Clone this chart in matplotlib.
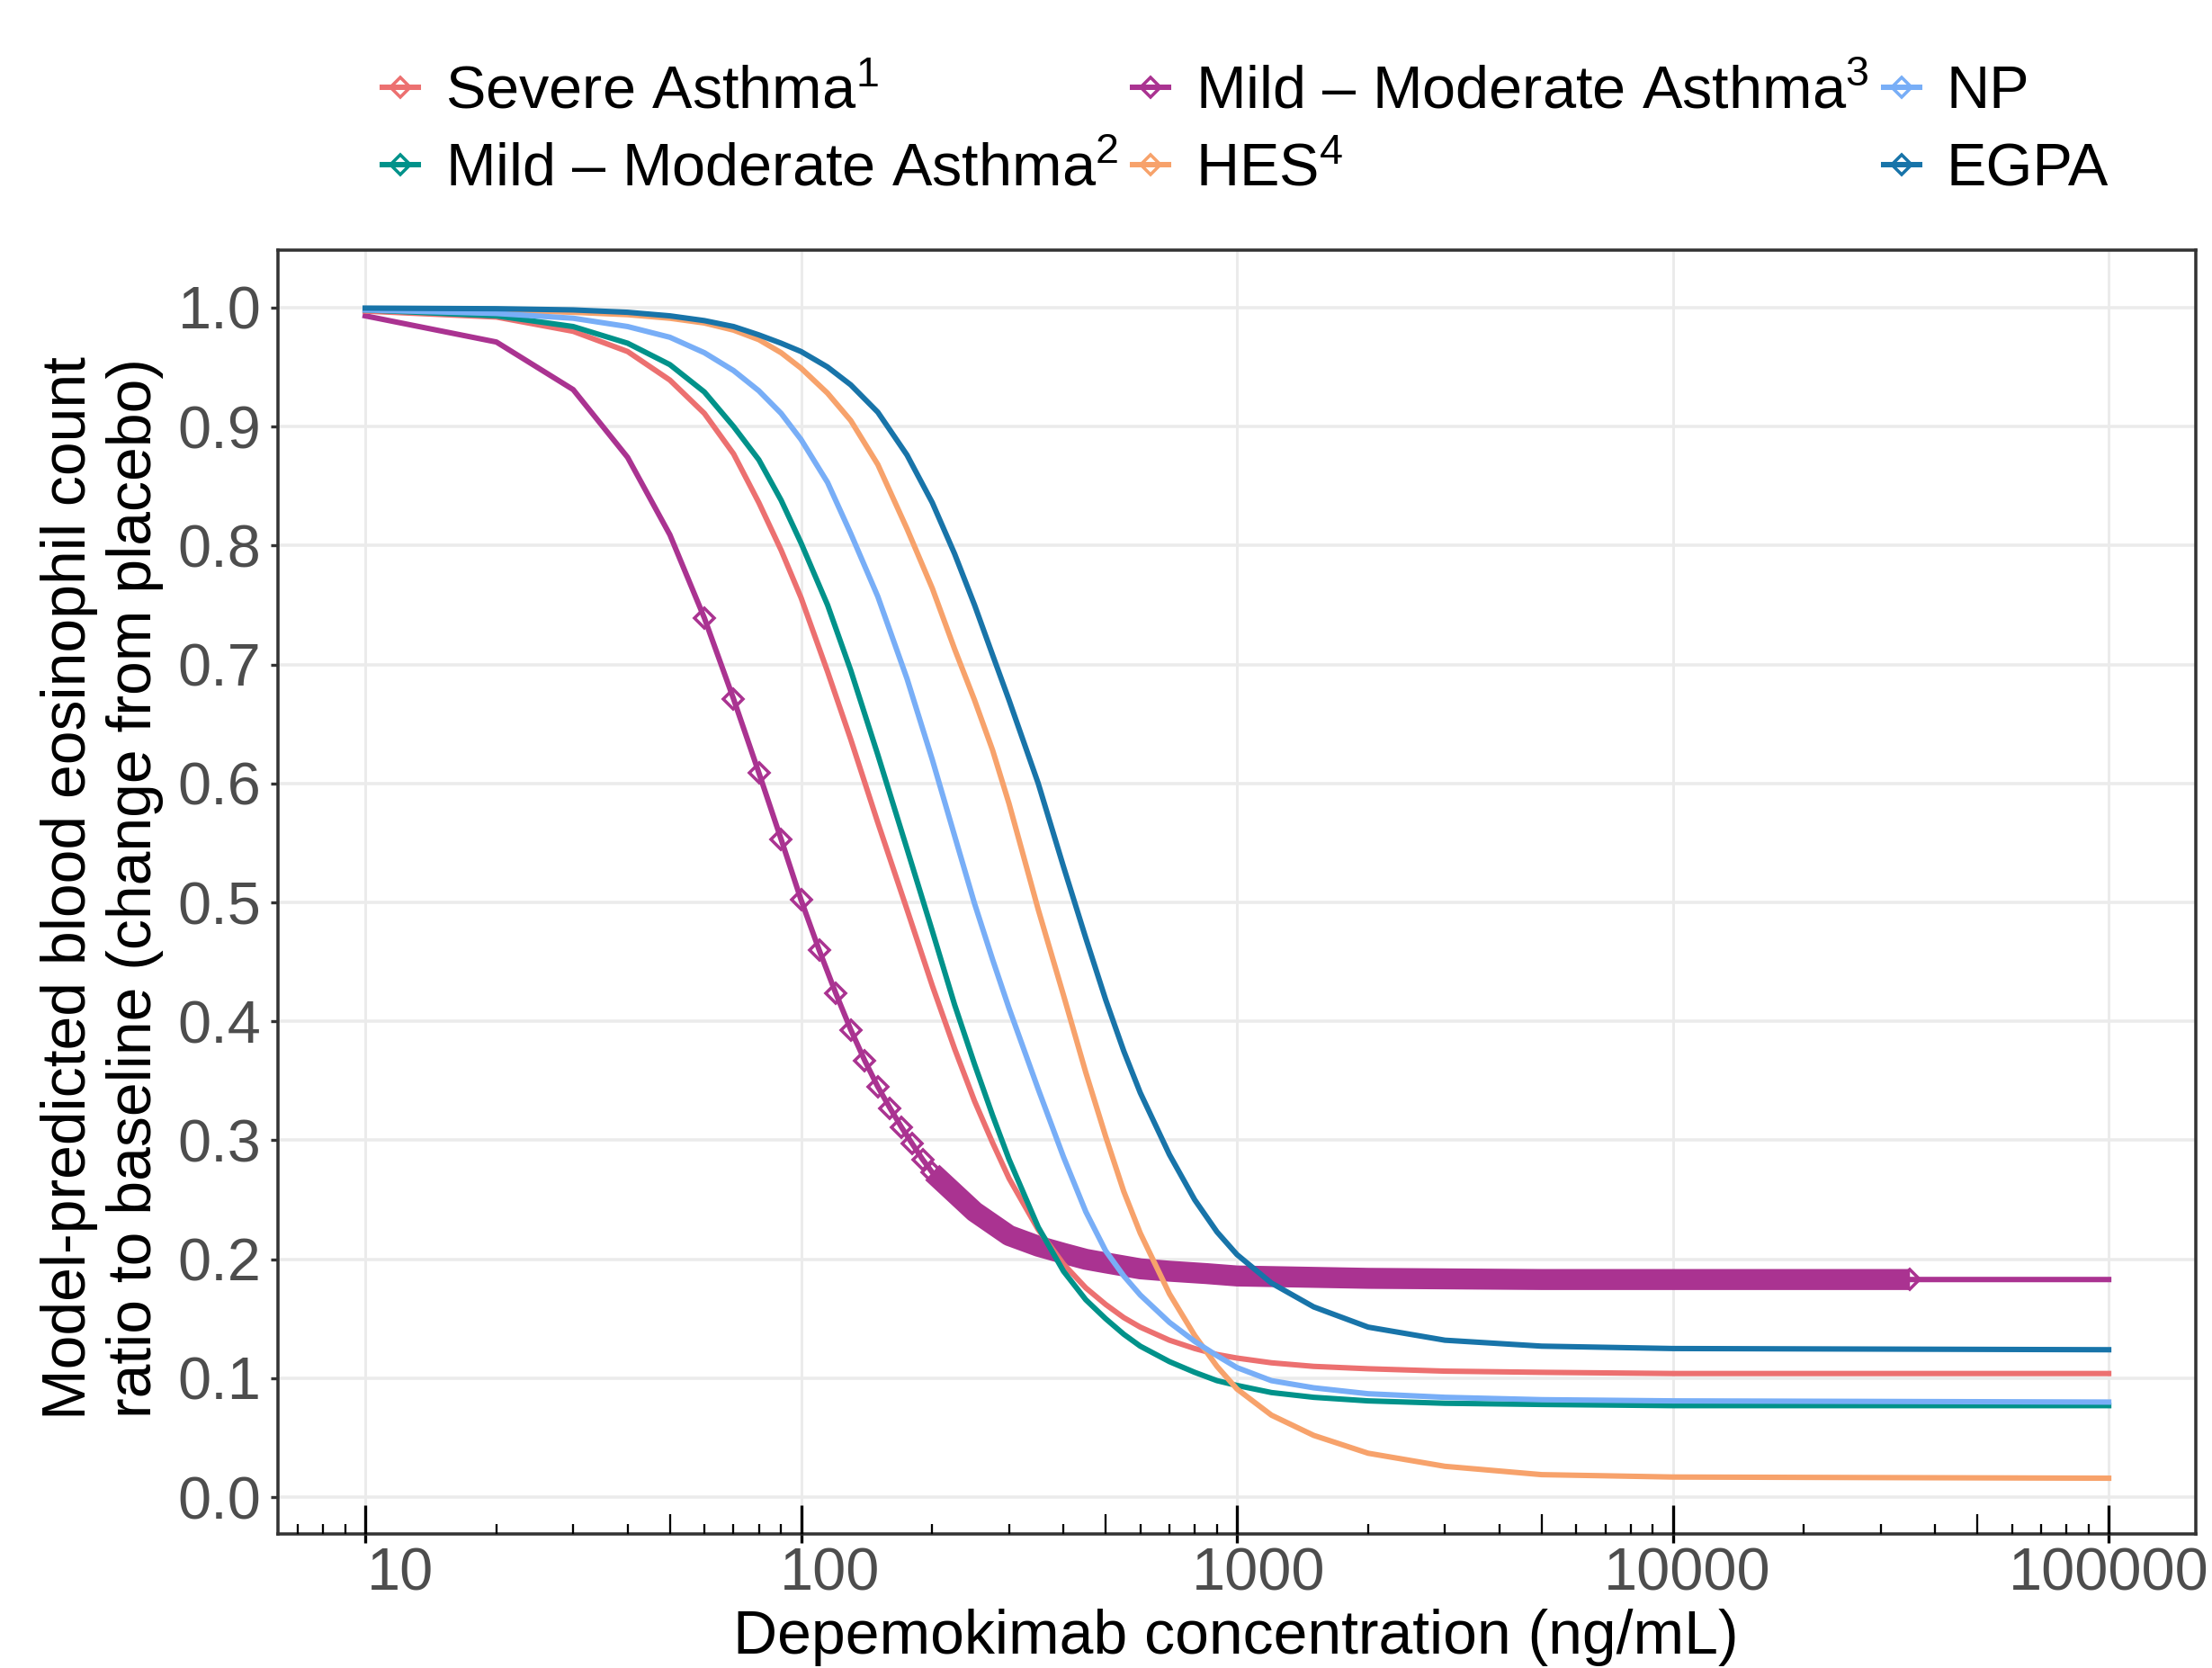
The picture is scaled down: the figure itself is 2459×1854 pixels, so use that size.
import numpy as np
import matplotlib
matplotlib.use("Agg")
import matplotlib.pyplot as plt
from matplotlib.lines import Line2D
from matplotlib.ticker import FixedLocator, NullLocator, NullFormatter, LogLocator, FixedFormatter
import matplotlib.transforms as mtransforms

plt.rcParams['font.family'] = ['Liberation Sans', 'DejaVu Sans']
plt.rcParams['mathtext.fontset'] = 'custom'
plt.rcParams['mathtext.rm'] = 'Liberation Sans'
plt.rcParams['mathtext.it'] = 'Liberation Sans:italic'
plt.rcParams['mathtext.bf'] = 'Liberation Sans:bold'

# ---------------- data ----------------
conc = [10, 20, 30, 40, 50, 60, 70, 80, 90, 100, 115, 130, 150, 175, 200, 225, 250,
        275, 300, 350, 400, 450, 500, 550, 600, 700, 800, 900, 1000, 1200, 1500,
        2000, 3000, 5000, 10000, 100000]

severe_asthma = [0.997, 0.992, 0.980, 0.963, 0.939, 0.911, 0.877, 0.836, 0.796, 0.756,
                 0.694, 0.637, 0.567, 0.494, 0.430, 0.377, 0.333, 0.298, 0.268, 0.225,
                 0.196, 0.176, 0.162, 0.151, 0.143, 0.132, 0.125, 0.120, 0.117, 0.113,
                 0.110, 0.108, 0.106, 0.105, 0.104, 0.104]
mild_mod_2 = [0.998, 0.993, 0.984, 0.970, 0.952, 0.929, 0.900, 0.872, 0.838, 0.802,
              0.750, 0.695, 0.624, 0.545, 0.476, 0.414, 0.364, 0.321, 0.284, 0.227,
              0.190, 0.166, 0.150, 0.137, 0.127, 0.114, 0.105, 0.098, 0.094, 0.088,
              0.084, 0.081, 0.079, 0.078, 0.077, 0.077]
hes = [0.999, 0.998, 0.996, 0.994, 0.991, 0.987, 0.981, 0.973, 0.962, 0.949,
       0.928, 0.905, 0.868, 0.814, 0.764, 0.713, 0.670, 0.628, 0.583, 0.494,
       0.422, 0.357, 0.303, 0.257, 0.222, 0.171, 0.136, 0.110, 0.091, 0.069,
       0.052, 0.037, 0.026, 0.019, 0.017, 0.016]
np_curve = [0.998, 0.995, 0.991, 0.984, 0.975, 0.962, 0.947, 0.930, 0.911, 0.889,
            0.853, 0.810, 0.757, 0.688, 0.620, 0.556, 0.499, 0.452, 0.411, 0.343,
            0.286, 0.240, 0.207, 0.186, 0.170, 0.147, 0.131, 0.119, 0.109, 0.098,
            0.092, 0.087, 0.084, 0.082, 0.081, 0.080]
egpa = [0.9995, 0.999, 0.998, 0.996, 0.993, 0.989, 0.984, 0.977, 0.970, 0.963,
        0.950, 0.935, 0.912, 0.876, 0.836, 0.793, 0.750, 0.708, 0.670, 0.600,
        0.530, 0.470, 0.418, 0.375, 0.340, 0.288, 0.250, 0.223, 0.204, 0.180,
        0.160, 0.143, 0.132, 0.127, 0.125, 0.124]

conc_mm3 = [10, 20, 30, 40, 50, 60, 70, 80, 90, 100, 110, 120, 130, 140, 150, 160,
            170, 180, 190, 200, 250, 300, 350, 400, 450, 500, 600, 700, 850, 1000,
            2000, 5000, 10000, 35000, 100000]
mild_mod_3 = [0.993, 0.971, 0.931, 0.874, 0.809, 0.739, 0.671, 0.609, 0.553, 0.502,
              0.460, 0.424, 0.393, 0.367, 0.345, 0.327, 0.311, 0.297, 0.284, 0.273,
              0.240, 0.220, 0.211, 0.205, 0.200, 0.197, 0.192, 0.190, 0.188, 0.186,
              0.184, 0.183, 0.183, 0.183, 0.183]
mm3_marker_range = (60, 200)      # separate markers
mm3_band_range = (200, 35000)     # overlapping markers forming a band

labels = ["Severe Asthma$^{1}$", "Mild \u2013 Moderate Asthma$^{2}$",
          "Mild \u2013 Moderate Asthma$^{3}$", "HES$^{4}$", "NP", "EGPA"]
colors = ["#EC7070", "#00928A", "#AA3391", "#F7A26B", "#78AEF7", "#1874A9"]

x_ticks = [10, 100, 1000, 10000, 100000]
x_ticklabels = ["10", "100", "1000", "10000", "100000"]
y_ticks = [0.0, 0.1, 0.2, 0.3, 0.4, 0.5, 0.6, 0.7, 0.8, 0.9, 1.0]

# ---------------- figure ----------------
W, H, DPI = 2459, 1854, 300
fig = plt.figure(figsize=(W / DPI, H / DPI), dpi=DPI)
ax = fig.add_axes([0.1257, 0.0804, 0.867, 0.7699])

lw = 1.45
ms = 3.8
mew = 0.85

# magenta (drawn first, under the others)
cm = np.array(conc_mm3, dtype=float)
ym = np.array(mild_mod_3)
ax.plot(cm, ym, color=colors[2], lw=lw, zorder=2)
band = (cm >= mm3_band_range[0]) & (cm <= mm3_band_range[1])
ax.plot(cm[band], ym[band], color=colors[2], lw=5.6, solid_capstyle='butt',
        solid_joinstyle='round', zorder=2)
mk = (cm >= mm3_marker_range[0]) & (cm <= mm3_marker_range[1])
ax.plot(cm[mk], ym[mk], ls='none', marker='D', ms=ms, mfc='none', mec=colors[2],
        mew=mew, zorder=2.1)
last = cm == mm3_band_range[1]
ax.plot(cm[last], ym[last], ls='none', marker='D', ms=ms, mfc='none', mec=colors[2],
        mew=mew, zorder=2.1)

c = np.array(conc, dtype=float)
for series, col in [(severe_asthma, colors[0]), (mild_mod_2, colors[1]),
                    (hes, colors[3]), (np_curve, colors[4]), (egpa, colors[5])]:
    ax.plot(c, series, color=col, lw=lw, zorder=3, solid_joinstyle='round')

ax.set_xscale('log')
ax.set_xlim(10 ** 0.8, 10 ** 5.2)
ax.set_ylim(-0.0308, 1.0486)

ax.xaxis.set_major_locator(FixedLocator(x_ticks))
ax.xaxis.set_major_formatter(FixedFormatter(x_ticklabels))
ax.xaxis.set_minor_locator(NullLocator())
ax.set_yticks(y_ticks)
ax.set_yticklabels([f"{v:.1f}" for v in y_ticks])
ax.yaxis.set_minor_locator(NullLocator())

ax.set_axisbelow(True)
ax.grid(True, which='major', axis='y', color='#EBEBEB', lw=0.85)
ax.grid(True, which='major', axis='x', color='#EBEBEB', lw=0.7)

for s in ax.spines.values():
    s.set_color('#333333')
    s.set_linewidth(0.85)

ax.tick_params(axis='y', which='major', direction='out', length=2.0, width=0.8,
               color='#333333', labelsize=16, labelcolor='#4D4D4D', pad=2.5)
ax.tick_params(axis='x', which='major', direction='out', length=2.4, width=0.8,
               color='black', labelsize=16, labelcolor='#4D4D4D', pad=1.2)

# label offsets as seen in reference
offs_pt = [9.4, 7.7, 5.8, 3.8, 0.0]
for lab, d in zip(ax.get_xticklabels(), offs_pt):
    lab.set_transform(lab.get_transform() +
                      mtransforms.ScaledTranslation(d / 72, 0, fig.dpi_scale_trans))

# log ticks inside the panel along the bottom
def make_twin():
    t = ax.twiny()
    t.set_xscale('log')
    t.set_xlim(ax.get_xlim())
    t.xaxis.set_ticks_position('bottom')
    t.tick_params(axis='x', labelbottom=False, labeltop=False)
    for s in t.spines.values():
        s.set_visible(False)
    return t

t1 = make_twin()
t1.xaxis.set_major_locator(FixedLocator(x_ticks))
t1.xaxis.set_major_formatter(NullFormatter())
t1.xaxis.set_minor_locator(LogLocator(base=10, subs=(2, 3, 4, 6, 7, 8, 9), numticks=60))
t1.xaxis.set_minor_formatter(NullFormatter())
t1.tick_params(axis='x', which='major', direction='in', length=7.7, width=0.8, color='black')
t1.tick_params(axis='x', which='minor', direction='in', length=2.6, width=0.55, color='black')

t2 = make_twin()
t2.xaxis.set_major_locator(LogLocator(base=10, subs=(5,), numticks=60))
t2.xaxis.set_major_formatter(NullFormatter())
t2.xaxis.set_minor_locator(NullLocator())
t2.tick_params(axis='x', which='major', direction='in', length=5.3, width=0.55, color='black')

# axis titles
fig.text(0.5588, 0.0085, "Depemokimab concentration (ng/mL)", ha='center', va='baseline',
         fontsize=16.3, color='black')
fig.text(0.0462, 0.4676,
         "Model-predicted blood eosinophil count\nratio to baseline (change from placebo)",
         rotation=90, ha='center', va='center', fontsize=16.3, color='black',
         linespacing=1.17)

# legend
handles = [Line2D([], [], color=colors[i], lw=lw, marker='D', ms=ms, mfc='none',
                  mec=colors[i], mew=mew) for i in range(len(labels))]
leg = fig.legend(handles, labels, ncol=3, loc='center',
                 bbox_to_anchor=(0.563, 0.921), frameon=False, fontsize=16,
                 handlelength=0.6, handletextpad=0.45, columnspacing=0.24,
                 labelspacing=0.37, borderpad=0.0)

fig.savefig("out.png", dpi=DPI)
